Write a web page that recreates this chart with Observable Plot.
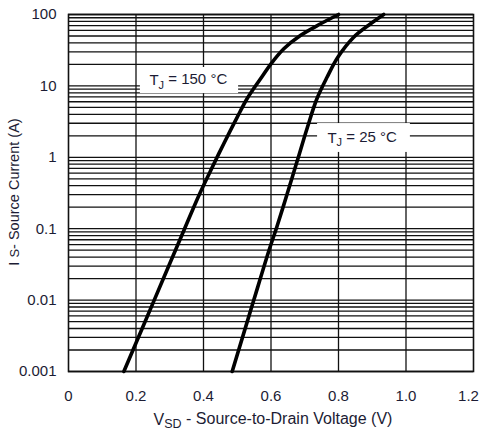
<!DOCTYPE html>
<html><head><meta charset="utf-8">
<script src="https://cdn.jsdelivr.net/npm/d3@7"></script>
<script src="https://cdn.jsdelivr.net/npm/@observablehq/plot@0.6"></script>
<style>
body{margin:0;background:#fff}
svg{font-family:"Liberation Sans",Arial,sans-serif}
</style>
</head><body><div id="chart"></div>
<script>
// T_J = 150 °C curve
const vsd150 = [0.164, 0.254, 0.344, 0.386, 0.421, 0.460, 0.500, 0.529, 0.569, 0.600, 0.638, 0.687, 0.747, 0.800];
const is150  = [0.001, 0.01, 0.1, 0.29, 0.65, 1.55, 3.65, 6.6, 12.6, 20.4, 33.1, 50.8, 74.1, 100];
// T_J = 25 °C curve
const vsd25 = [0.485, 0.549, 0.594, 0.617, 0.648, 0.678, 0.708, 0.736, 0.766, 0.798, 0.845, 0.895, 0.934];
const is25  = [0.001, 0.01, 0.0495, 0.105, 0.308, 0.90, 2.64, 6.6, 13.2, 25.2, 48.1, 74.1, 100];

const xTicks = [0, 0.2, 0.4, 0.6, 0.8, 1.0, 1.2];
const xTickLabels = ["0", "0.2", "0.4", "0.6", "0.8", "1.0", "1.2"];
const yTicks = [0.001, 0.01, 0.1, 1, 10, 100];
const yTickLabels = ["0.001", "0.01", "0.1", "1", "10", "100"];
const decades = [0.001, 0.01, 0.1, 1, 10];
const multipliers = [1, 2, 3, 4, 5, 6, 7, 8, 9];
const xGrid = [0.2, 0.4, 0.6, 0.8, 1.0];
const curveLabels = ["TJ = 150 °C", "TJ = 25 °C"];
const xTitle = ["V", "SD", " - Source-to-Drain Voltage (V)"];
const yTitle = ["I", "S", "- Source Current (A)"];

const yGrid = decades.flatMap(d => multipliers.map(m => d * m)).concat([100]);
const s150 = vsd150.map((v, i) => ({v, i: is150[i]}));
const s25 = vsd25.map((v, i) => ({v, i: is25[i]}));

const ink = "#111";
const txt = "#1c1c34";

const plot = Plot.plot({
  width: 480, height: 430,
  marginLeft: 68, marginRight: 7, marginTop: 14, marginBottom: 59,
  style: {fontSize: "15px", fontFamily: '"Liberation Sans", Arial, sans-serif', color: txt, background: "#fff"},
  x: {domain: [0, 1.2]},
  y: {type: "log", domain: [0.001, 100]},
  marks: [
    Plot.ruleY(yGrid, {stroke: ink, strokeWidth: 1.3}),
    Plot.ruleX(xGrid, {stroke: ink, strokeWidth: 1.3}),
    Plot.rect([0], {x1: 0.213, x2: 0.504, y1: 7.8, y2: 18.1, fill: "#fff"}),
    Plot.rect([0], {x1: 0.738, x2: 1.013, y1: 1.17, y2: 2.97, fill: "#fff"}),
    Plot.text([curveLabels[0]], {x: 0.355, y: 11.9, text: d => d, fill: txt, fontSize: 15}),
    Plot.text([curveLabels[1]], {x: 0.87, y: 1.86, text: d => d, fill: txt, fontSize: 15}),
    Plot.frame({stroke: ink, strokeWidth: 1.6}),
    Plot.line(s150, {x: "v", y: "i", curve: "catmull-rom", stroke: "#000", strokeWidth: 3.6}),
    Plot.line(s25, {x: "v", y: "i", curve: "catmull-rom", stroke: "#000", strokeWidth: 3.6}),
    Plot.axisX({ticks: xTicks, tickFormat: d => xTickLabels[xTicks.indexOf(d)], tickSize: 0, tickPadding: 19, label: null, fill: txt}),
    Plot.axisY({ticks: yTicks, tickFormat: d => yTickLabels[yTicks.indexOf(d)], tickSize: 0, tickPadding: 12, label: null, fill: txt})
  ]
});

const svg = d3.select(plot);
svg.selectAll("text").each(function() {
  const t = this.textContent;
  // subscripts on the curve labels
  if (curveLabels.includes(t)) {
    const el = d3.select(this);
    el.text(null);
    const rest = t.slice(2);
    el.append("tspan").text("T");
    el.append("tspan").attr("dy", "0.3em").attr("font-size", "11px").text("J");
    el.append("tspan").attr("dy", "-0.3em").text(rest);
  }
  // last x tick label sits just inside the edge, as in the reference
  if (t === xTickLabels[xTickLabels.length - 1]) d3.select(this).attr("dx", -5);
});
// axis titles
const xt = svg.append("text").attr("x", 273).attr("y", 425).attr("text-anchor", "middle")
  .attr("fill", txt).attr("font-size", "16px");
xt.append("tspan").text(xTitle[0]);
xt.append("tspan").attr("dy", "0.25em").attr("font-size", "12.5px").text(xTitle[1]);
xt.append("tspan").attr("dy", "-0.25em").text(xTitle[2]);
const yt = svg.append("text").attr("transform", "translate(19,192) rotate(-90)").attr("text-anchor", "middle")
  .attr("fill", txt).attr("font-size", "14.5px");
yt.append("tspan").text(yTitle[0] + " ");
yt.append("tspan").attr("font-size", "13px").text(yTitle[1]);
yt.append("tspan").text(yTitle[2]);

document.getElementById("chart").appendChild(plot);
</script>
</body></html>
